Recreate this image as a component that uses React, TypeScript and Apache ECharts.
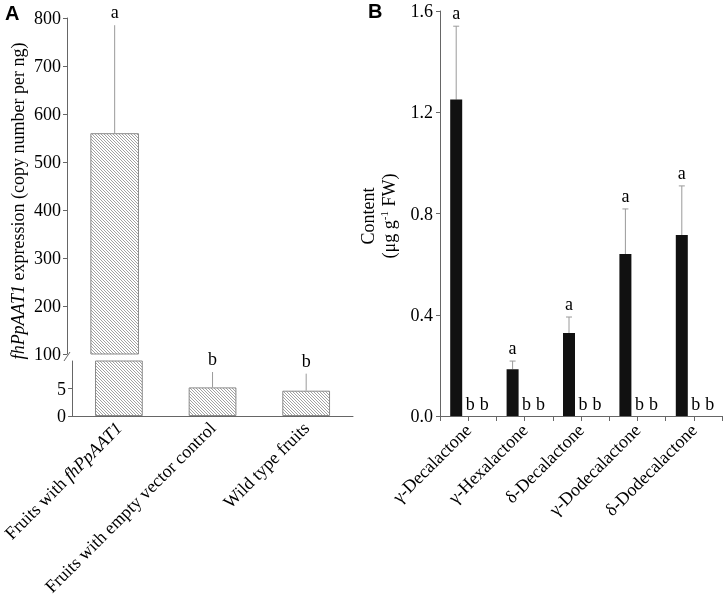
import React, { useEffect, useRef } from "react";
import * as echarts from "echarts";

// ---------- Panel A data ----------
const categoriesA = ["Fruits with fhPpAAT1", "Fruits with empty vector control", "Wild type fruits"];
const valuesA = [560, 5.2, 4.6];
const errorTopA = [785, 8.0, 7.7];
const lettersA = ["a", "b", "b"];
const upperTicksA = [100, 200, 300, 400, 500, 600, 700, 800];
const lowerTicksA = [0, 5];

// ---------- Panel B data ----------
const categoriesB = ["γ-Decalactone", "γ-Hexalactone", "δ-Decalactone", "γ-Dodecalactone", "δ-Dodecalactone"];
const transgenicB = [1.25, 0.185, 0.328, 0.64, 0.715];
const transgenicErrTopB = [1.54, 0.217, 0.391, 0.818, 0.909];
const emptyVectorB = [0, 0, 0, 0, 0];
const wildTypeB = [0, 0, 0, 0, 0];
const lettersTransgenicB = ["a", "a", "a", "a", "a"];
const lettersEmptyB = ["b", "b", "b", "b", "b"];
const lettersWildB = ["b", "b", "b", "b", "b"];
const ticksB = [0, 0.4, 0.8, 1.2, 1.6];

const SERIF = '"Liberation Serif", "Times New Roman", serif';
const AXIS = "#666";
const ERR = "#9a9a9a";

function makeHatch() {
  const c = document.createElement("canvas");
  c.width = 3;
  c.height = 3;
  const ctx = c.getContext("2d")!;
  ctx.fillStyle = "#ffffff";
  ctx.fillRect(0, 0, 3, 3);
  ctx.fillStyle = "#a2a2a2";
  for (let i = 0; i < 3; i++) ctx.fillRect(i, i, 1, 1);
  return c;
}

function errorSeries(
  xAxisIndex: number,
  yAxisIndex: number,
  idx: number[],
  vals: number[],
  tops: number[],
  letters: string[],
  offsetX: number,
  capHalf: number
) {
  return {
    type: "custom",
    xAxisIndex,
    yAxisIndex,
    silent: true,
    clip: false,
    data: idx.map((i) => [i, vals[i], tops[i]]),
    renderItem: (params: any, api: any) => {
      const i = api.value(0);
      const v = api.value(1);
      const t = api.value(2);
      const p0 = api.coord([i, v]);
      const p1 = api.coord([i, t]);
      const x = p0[0] + offsetX;
      const children: any[] = [
        { type: "line", shape: { x1: x, y1: p0[1], x2: x, y2: p1[1] }, style: { stroke: ERR, lineWidth: 1 } },
      ];
      if (capHalf > 0) {
        children.push({
          type: "line",
          shape: { x1: x - capHalf, y1: p1[1], x2: x + capHalf, y2: p1[1] },
          style: { stroke: ERR, lineWidth: 1 },
        });
      }
      children.push({
        type: "text",
        style: {
          text: letters[i],
          x,
          y: p1[1] - 4,
          align: "center",
          verticalAlign: "bottom",
          fontSize: 18,
          fontFamily: SERIF,
          fill: "#000",
        },
      });
      return { type: "group", children };
    },
  };
}

export default function App() {
  const ref = useRef<HTMLDivElement>(null);
  useEffect(() => {
    if (!ref.current) return;
    const chart = echarts.init(ref.current, undefined, { renderer: "svg" });
    const hatch = makeHatch();
    const labelStyle = { color: "#000", fontSize: 18, fontFamily: SERIF };
    const lineStyle = { color: AXIS, width: 1 };

    const upperIdx = valuesA.map((_, i) => i).filter((i) => valuesA[i] > upperTicksA[0]);
    const lowerIdx = valuesA.map((_, i) => i).filter((i) => valuesA[i] <= upperTicksA[0]);

    const hatchStyle = { color: { image: hatch, repeat: "repeat" }, borderColor: "#8a8a8a", borderWidth: 1 };

    const option: any = {
      animation: false,
      grid: [
        { left: 67, top: 18, width: 286, height: 336 },
        { left: 67, top: 361, width: 286, height: 55 },
        { left: 440, top: 11, width: 282, height: 405 },
      ],
      xAxis: [
        { type: "category", gridIndex: 0, data: categoriesA, show: false },
        {
          type: "category",
          gridIndex: 1,
          data: categoriesA,
          axisLine: { lineStyle },
          axisTick: { alignWithLabel: true, length: 5, lineStyle },
          axisLabel: {
            ...labelStyle,
            rotate: 45,
            margin: 9,
            interval: 0,
            formatter: (v: string) => v.replace("fhPpAAT1", "{i|fhPpAAT1}"),
            rich: { i: { fontStyle: "italic", fontSize: 18, fontFamily: SERIF, color: "#000" } },
          },
        },
        {
          type: "category",
          gridIndex: 2,
          data: categoriesB,
          axisLine: { lineStyle },
          axisTick: { show: false },
          axisLabel: { ...labelStyle, rotate: 45, margin: 11, interval: 0 },
        },
        {
          type: "category",
          gridIndex: 2,
          position: "bottom",
          data: categoriesB.flatMap((c) => [c + "_1", c + "_2"]),
          axisLine: { show: false },
          axisTick: { show: true, length: 5, interval: 0, lineStyle },
          axisLabel: { show: false },
        },
      ],
      yAxis: [
        {
          type: "value",
          gridIndex: 0,
          min: upperTicksA[0],
          max: upperTicksA[upperTicksA.length - 1],
          interval: upperTicksA[1] - upperTicksA[0],
          splitLine: { show: false },
          axisLine: { show: true, lineStyle },
          axisTick: { show: true, length: 4, lineStyle },
          axisLabel: { ...labelStyle, margin: 6 },
        },
        {
          type: "value",
          gridIndex: 1,
          min: 0,
          max: 10,
          interval: 5,
          splitLine: { show: false },
          axisLine: { show: true, lineStyle },
          axisTick: { show: true, length: 4, lineStyle, customValues: lowerTicksA },
          axisLabel: { ...labelStyle, margin: 6, customValues: lowerTicksA },
        },
        {
          type: "value",
          gridIndex: 2,
          min: ticksB[0],
          max: ticksB[ticksB.length - 1],
          interval: ticksB[1] - ticksB[0],
          splitLine: { show: false },
          axisLine: { show: true, lineStyle },
          axisTick: { show: true, length: 4, lineStyle },
          axisLabel: { ...labelStyle, margin: 7, formatter: (v: number) => v.toFixed(1) },
        },
      ],
      series: [
        {
          type: "bar",
          xAxisIndex: 0,
          yAxisIndex: 0,
          data: valuesA.map((v, i) => (upperIdx.includes(i) ? v : null)),
          barWidth: "51%",
          itemStyle: hatchStyle,
          silent: true,
        },
        {
          type: "bar",
          xAxisIndex: 1,
          yAxisIndex: 1,
          data: valuesA,
          barWidth: "51%",
          itemStyle: hatchStyle,
          silent: true,
        },
        errorSeries(0, 0, upperIdx, valuesA, errorTopA, lettersA, 0, 0),
        errorSeries(1, 1, lowerIdx, valuesA, errorTopA, lettersA, 0, 0),
        {
          type: "bar",
          name: "Fruits with fhPpAAT1",
          xAxisIndex: 2,
          yAxisIndex: 2,
          data: transgenicB,
          barWidth: 12,
          barGap: "0%",
          itemStyle: { color: "#111" },
          silent: true,
        },
        {
          type: "bar",
          name: "Fruits with empty vector control",
          xAxisIndex: 2,
          yAxisIndex: 2,
          data: emptyVectorB,
          barWidth: 12,
          barGap: "0%",
          itemStyle: { color: "#111" },
          silent: true,
          label: {
            show: true,
            position: "top",
            distance: 3,
            offset: [2, 0],
            formatter: (p: any) => lettersEmptyB[p.dataIndex],
            ...labelStyle,
          },
        },
        {
          type: "bar",
          name: "Wild type fruits",
          xAxisIndex: 2,
          yAxisIndex: 2,
          data: wildTypeB,
          barWidth: 12,
          barGap: "0%",
          itemStyle: { color: "#111" },
          silent: true,
          label: {
            show: true,
            position: "top",
            distance: 3,
            offset: [4, 0],
            formatter: (p: any) => lettersWildB[p.dataIndex],
            ...labelStyle,
          },
        },
        errorSeries(2, 2, transgenicB.map((_, i) => i), transgenicB, transgenicErrTopB, lettersTransgenicB, -12, 3),
      ],
      graphic: [
        {
          type: "text",
          left: 5,
          top: 3,
          style: { text: "A", fontSize: 20, fontWeight: "bold", fontFamily: '"Liberation Sans", Arial, sans-serif', fill: "#000" },
        },
        {
          type: "text",
          left: 368,
          top: 1,
          style: { text: "B", fontSize: 20, fontWeight: "bold", fontFamily: '"Liberation Sans", Arial, sans-serif', fill: "#000" },
        },
        {
          type: "line",
          shape: { x1: 64, y1: 361, x2: 70, y2: 352 },
          style: { stroke: AXIS, lineWidth: 1 },
        },
        {
          type: "text",
          x: 18,
          y: 201,
          rotation: Math.PI / 2,
          style: {
            text: "{i|fhPpAAT1} expression (copy number per ng)",
            align: "center",
            verticalAlign: "middle",
            fontSize: 18,
            fontFamily: SERIF,
            fill: "#000",
            rich: { i: { fontStyle: "italic", fontSize: 18, fontFamily: SERIF, fill: "#000" } },
          },
        },
        {
          type: "text",
          x: 378,
          y: 216,
          rotation: Math.PI / 2,
          style: {
            text: "Content\n(μg g{sup|-1} FW)",
            align: "center",
            verticalAlign: "middle",
            fontSize: 18,
            lineHeight: 21,
            fontFamily: SERIF,
            fill: "#000",
            rich: { sup: { fontSize: 11, fontFamily: SERIF, fill: "#000", verticalAlign: "top", lineHeight: 21 } },
          },
        },
      ],
    };
    chart.setOption(option);
    return () => chart.dispose();
  }, []);
  return <div ref={ref} style={{ position: "fixed", left: 0, top: 0, width: 724, height: 601 }} />;
}
